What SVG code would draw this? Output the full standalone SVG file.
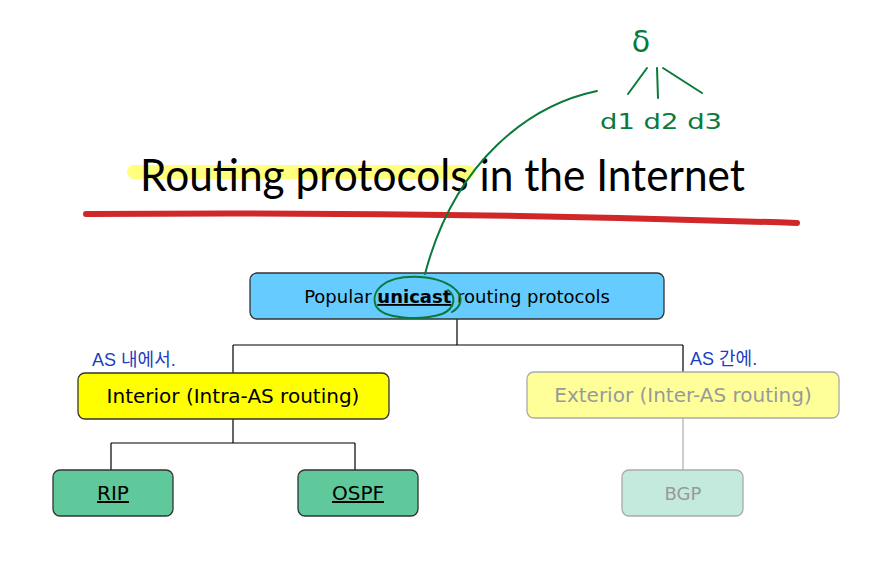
<svg xmlns="http://www.w3.org/2000/svg" width="884" height="580" viewBox="0 0 884 580">
<style>
.box{stroke:#333;stroke-width:1.3}
.faint{stroke:#aaa;stroke-width:1.3}
.lbl{font-family:"DejaVu Sans",sans-serif;font-size:20px;text-anchor:middle;fill:#000}
.glbl{font-family:"DejaVu Sans",sans-serif;font-size:20px;text-anchor:middle;fill:#999}
.conn{stroke:#000;stroke-width:1.2;fill:none}
.gconn{stroke:#bbb;stroke-width:1.5;fill:none}
.ink{fill:none;stroke:#0a7a3a;stroke-width:2;stroke-linecap:round}
.inktext{font-family:"DejaVu Sans",sans-serif;fill:#0a7a3a}
.blue{font-family:"Liberation Sans","Noto Sans CJK KR",sans-serif;fill:#1a40c0;font-size:18px}
</style>
<rect width="884" height="580" fill="#fff"/>
<g id="title">
<path d="M134,172 L468,172" stroke="#ffff66" stroke-opacity="0.85" stroke-width="14" stroke-linecap="round" fill="none"/>
<text x="140" y="191" font-family="Lato,'Liberation Sans',sans-serif" font-size="44" textLength="605" lengthAdjust="spacingAndGlyphs" fill="#000">Routing protocols in the Internet</text>
<path d="M86,214 Q440,211 797,223" stroke="#d02828" stroke-width="6" stroke-linecap="round" fill="none"/>
</g>
<g id="connectors">
<path class="conn" d="M457,319 V345 M233,345 H683 M233,345 V373 M683,345 V372"/>
<path class="conn" d="M233,419 V443 M111,443 H355 M111,443 V470 M355,443 V470"/>
<path class="gconn" d="M683,418 V470"/>
</g>
<g id="node-top">
<rect class="box" x="250" y="273" width="414" height="46" rx="7" fill="#66ccff"/>
<text class="lbl" x="457" y="303" style="font-size:18px">Popular <tspan font-weight="bold" text-decoration="underline">unicast</tspan> routing protocols</text>
</g>
<g id="node-interior">
<rect class="box" x="78" y="373" width="311" height="46" rx="7" fill="#ffff00"/>
<text class="lbl" x="233" y="403">Interior (Intra-AS routing)</text>
</g>
<g id="node-exterior">
<rect class="faint" x="527" y="372" width="312" height="46" rx="7" fill="#ffff99"/>
<text class="glbl" x="683" y="402">Exterior (Inter-AS routing)</text>
</g>
<g id="node-rip">
<rect class="box" x="53" y="470" width="120" height="46" rx="7" fill="#5fc99b"/>
<text class="lbl" x="113" y="500" text-decoration="underline">RIP</text>
</g>
<g id="node-ospf">
<rect class="box" x="298" y="470" width="120" height="46" rx="7" fill="#5fc99b"/>
<text class="lbl" x="358" y="500" text-decoration="underline">OSPF</text>
</g>
<g id="node-bgp">
<rect class="faint" x="622" y="470" width="121" height="46" rx="7" fill="#c3eadc"/>
<text class="glbl" x="683" y="500" style="font-size:18px">BGP</text>
</g>
<g id="annotations">
<path class="ink" d="M597,91 C530,105 455,160 425,274"/>
<path class="ink" d="M452,312 C472,300 455,279 420,277 C383,275 370,292 376,306 C383,319 420,321 442,314 C456,308 456,296 448,290"/>
<text class="inktext" x="641" y="52" font-size="30" text-anchor="middle">δ</text>
<path class="ink" d="M647,68 L628,94 M657,68 L658,98 M663,68 L702,93"/>
<text class="inktext" x="600" y="129" font-size="22" textLength="122" lengthAdjust="spacingAndGlyphs">d1 d2 d3</text>
<text class="blue" x="92" y="366">AS 내에서.</text>
<text class="blue" x="690" y="365">AS 간에.</text>
</g>
</svg>
